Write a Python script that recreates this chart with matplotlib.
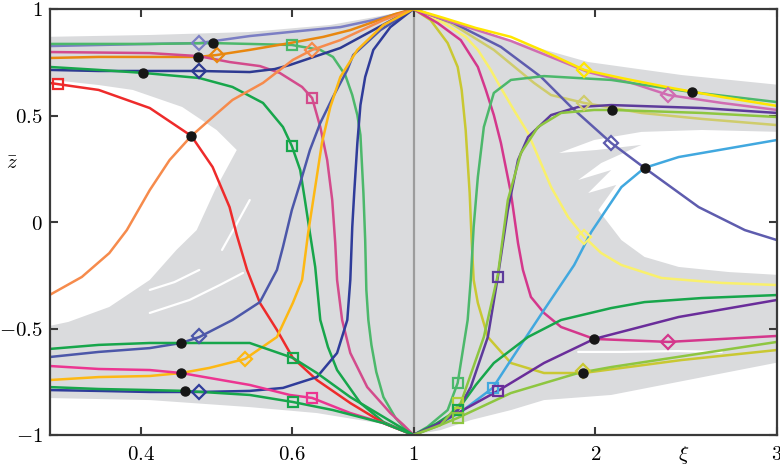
import numpy as np
import matplotlib
matplotlib.use('Agg')
import matplotlib.pyplot as plt
from matplotlib.ticker import FixedLocator, FixedFormatter, NullLocator

plt.rcParams['mathtext.fontset'] = 'cm'
plt.rcParams['font.family'] = 'DejaVu Serif'

# ---------------- data ----------------
xi_ticks = [0.4, 0.6, 1, 2, 3]
xi_tick_labels = ['$0.4$', '$0.6$', '$1$', '$2$', '$3$']
z_ticks = [-1, -0.5, 0, 0.5, 1]
z_tick_labels = ['$-1$', '$-0.5$', '$0$', '$0.5$', '$1$']

# gray envelope of all trajectories
env_up_xi = [0.33, 0.408, 0.526, 0.686, 0.846, 1.0, 1.204, 1.591, 1.961, 2.475, 3.02]
env_up_z = [0.869, 0.878, 0.892, 0.925, 0.967, 1.0, 0.939, 0.840, 0.751, 0.690, 0.643]
env_lo_xi = [0.33, 0.408, 0.526, 0.653, 0.858, 1.0, 1.149, 1.315, 1.536, 1.718, 2.088, 3.02]
env_lo_z = [-0.826, -0.836, -0.869, -0.897, -0.948, -1.0, -0.977, -0.930, -0.883, -0.836, -0.812, -0.657]

# white gaps inside the envelope
gapL_xi = [0.33, 0.366, 0.393, 0.440, 0.480, 0.507, 0.478, 0.456, 0.434, 0.408, 0.374, 0.345, 0.33]
gapL_z = [0.671, 0.643, 0.620, 0.540, 0.432, 0.338, 0.150, -0.038, -0.131, -0.272, -0.399, -0.469, -0.493]
gapR_xi = [3.02, 2.586, 2.254, 1.994, 1.801, 2.006, 2.254, 2.033, 1.906, 2.088, 1.961, 2.116, 2.017,
           2.144, 2.271, 2.459, 2.735, 3.02]
gapR_z = [0.423, 0.432, 0.423, 0.385, 0.324, 0.338, 0.362, 0.277, 0.197, 0.244, 0.136, 0.174, 0.056,
          -0.085, -0.164, -0.211, -0.235, -0.249]
wl1_xi = [0.408, 0.448, 0.484, 0.516]
wl1_z = [-0.427, -0.366, -0.296, -0.239]
wl2_xi = [0.408, 0.432, 0.459]
wl2_z = [-0.319, -0.282, -0.225]
wl3_xi = [0.487, 0.506, 0.526]
wl3_z = [-0.131, -0.014, 0.103]
wr1_xi = [1.906, 2.144, 2.459, 2.696]
wr1_z = [-0.610, -0.610, -0.606, -0.610]

# ---- trajectories, xi < 1 ----
lav_xi = [0.333, 0.366, 0.408, 0.459, 0.526, 0.595, 0.713, 0.819, 0.933, 1.0]
lav_z = [0.826, 0.831, 0.836, 0.840, 0.873, 0.892, 0.915, 0.948, 0.981, 1.0]
mgrnL_xi = [0.333, 0.408, 0.475, 0.526, 0.599, 0.661, 0.693, 0.727, 0.748, 0.764, 0.774, 0.784, 0.790,
            0.794, 0.801, 0.812, 0.830, 0.858, 0.910, 0.958, 1.0]
mgrnL_z = [0.836, 0.836, 0.840, 0.836, 0.831, 0.808, 0.775, 0.690, 0.596, 0.502, 0.408, 0.136, -0.085,
           -0.319, -0.460, -0.577, -0.704, -0.822, -0.920, -0.972, -1.0]
dorg_xi = [0.333, 0.366, 0.408, 0.458, 0.480, 0.526, 0.595, 0.668, 0.742, 0.819, 0.910, 1.0]
dorg_z = [0.770, 0.775, 0.775, 0.775, 0.784, 0.808, 0.840, 0.869, 0.901, 0.939, 0.977, 1.0]
pnk_xi = [0.333, 0.408, 0.458, 0.497, 0.542, 0.576, 0.620, 0.642, 0.661, 0.678, 0.691, 0.699, 0.704,
          0.718, 0.742, 0.797, 0.887, 0.948, 1.0]
pnk_z = [0.798, 0.793, 0.779, 0.751, 0.732, 0.700, 0.634, 0.582, 0.446, 0.291, 0.103, -0.099, -0.272,
         -0.460, -0.615, -0.775, -0.897, -0.953, -1.0]
dblue_xi = [0.333, 0.366, 0.408, 0.459, 0.526, 0.567, 0.595, 0.713, 0.819, 0.919, 1.0]
dblue_z = [0.714, 0.709, 0.709, 0.709, 0.704, 0.718, 0.737, 0.817, 0.901, 0.962, 1.0]
sgrn1_xi = [0.333, 0.366, 0.402, 0.459, 0.501, 0.547, 0.582, 0.599, 0.616, 0.626, 0.637, 0.649, 0.661,
            0.680, 0.704, 0.774, 0.858, 1.0]
sgrn1_z = [0.728, 0.714, 0.700, 0.676, 0.634, 0.559, 0.446, 0.357, 0.244, 0.103, -0.052, -0.211, -0.460,
           -0.587, -0.695, -0.850, -0.939, -1.0]
lorg_xi = [0.333, 0.354, 0.374, 0.388, 0.408, 0.427, 0.450, 0.478, 0.501, 0.547, 0.601, 0.642, 0.713,
           0.858, 1.0]
lorg_z = [-0.343, -0.258, -0.146, -0.038, 0.150, 0.291, 0.404, 0.502, 0.573, 0.653, 0.761, 0.808, 0.854,
          0.948, 1.0]
red_xi = [0.333, 0.366, 0.408, 0.450, 0.475, 0.497, 0.507, 0.522, 0.542, 0.571, 0.601, 0.653, 0.742,
          0.858, 1.0]
red_z = [0.653, 0.620, 0.535, 0.404, 0.258, 0.070, -0.061, -0.225, -0.380, -0.507, -0.638, -0.742,
         -0.850, -0.944, -1.0]
blue2_xi = [0.333, 0.366, 0.408, 0.439, 0.459, 0.501, 0.542, 0.571, 0.582, 0.599, 0.616, 0.637, 0.661,
            0.693, 0.733, 0.751, 0.846, 1.0]
blue2_z = [-0.634, -0.610, -0.592, -0.568, -0.540, -0.460, -0.376, -0.225, -0.117, 0.056, 0.183, 0.338,
           0.465, 0.587, 0.714, 0.784, 0.901, 1.0]
blue3_xi = [0.333, 0.366, 0.408, 0.459, 0.526, 0.582, 0.653, 0.704, 0.733, 0.742, 0.748, 0.754, 0.764,
            0.774, 0.790, 0.819, 0.887, 1.0]
blue3_z = [-0.789, -0.793, -0.798, -0.798, -0.793, -0.779, -0.728, -0.615, -0.460, -0.272, -0.023, 0.136,
           0.371, 0.549, 0.681, 0.808, 0.915, 1.0]
gold_xi = [0.333, 0.366, 0.408, 0.439, 0.471, 0.519, 0.571, 0.601, 0.620, 0.633, 0.649, 0.665, 0.686,
           0.713, 0.764, 0.858, 1.0]
gold_z = [-0.742, -0.728, -0.723, -0.709, -0.685, -0.643, -0.540, -0.380, -0.272, -0.052, 0.164, 0.371,
          0.540, 0.681, 0.808, 0.925, 1.0]
hpink_xi = [0.333, 0.366, 0.408, 0.439, 0.526, 0.595, 0.642, 0.742, 0.858, 1.0]
hpink_z = [-0.676, -0.690, -0.695, -0.709, -0.765, -0.812, -0.826, -0.897, -0.944, -1.0]
sgrn2_xi = [0.333, 0.366, 0.408, 0.439, 0.526, 0.601, 0.653, 0.742, 0.858, 1.0]
sgrn2_z = [-0.596, -0.577, -0.568, -0.568, -0.568, -0.638, -0.709, -0.822, -0.915, -1.0]
sgrn3_xi = [0.333, 0.366, 0.408, 0.443, 0.526, 0.601, 0.693, 0.858, 1.0]
sgrn3_z = [-0.775, -0.784, -0.789, -0.793, -0.812, -0.845, -0.883, -0.944, -1.0]

# ---- trajectories, xi > 1 ----
yel_xi = [1.0, 1.166, 1.343, 1.536, 1.702, 1.939, 2.144, 2.420, 2.696, 3.0]
yel_z = [1.0, 0.958, 0.911, 0.869, 0.808, 0.714, 0.676, 0.629, 0.587, 0.545]
orch_xi = [1.0, 1.177, 1.536, 1.702, 1.961, 2.199, 2.403, 2.696, 3.0]
orch_z = [1.0, 0.948, 0.850, 0.793, 0.704, 0.653, 0.596, 0.559, 0.526]
mgrnR_xi = [1.0, 1.077, 1.188, 1.243, 1.298, 1.315, 1.331, 1.354, 1.387, 1.442, 1.536, 1.718, 2.088,
            2.530, 3.0]
mgrnR_z = [-1.0, -0.962, -0.883, -0.756, -0.460, -0.272, -0.023, 0.211, 0.446, 0.606, 0.667, 0.685,
           0.667, 0.610, 0.563]
khaki_xi = [1.0, 1.204, 1.442, 1.663, 1.757, 1.939, 2.254, 2.586, 3.0]
khaki_z = [1.0, 0.934, 0.808, 0.653, 0.596, 0.559, 0.512, 0.484, 0.455]
slate_xi = [1.0, 1.221, 1.481, 1.702, 1.867, 2.088, 2.271, 2.569, 2.823, 3.0]
slate_z = [1.0, 0.934, 0.822, 0.681, 0.540, 0.371, 0.254, 0.070, -0.038, -0.085]
lyel_xi = [1.0, 1.166, 1.287, 1.354, 1.425, 1.481, 1.552, 1.630, 1.757, 1.851, 1.939, 2.033, 2.144,
           2.365, 2.696, 3.0]
lyel_z = [1.0, 0.934, 0.869, 0.808, 0.714, 0.629, 0.526, 0.418, 0.164, 0.023, -0.070, -0.146, -0.202,
          -0.263, -0.286, -0.296]
mag_xi = [1.0, 1.133, 1.260, 1.354, 1.398, 1.442, 1.481, 1.536, 1.575, 1.602, 1.646, 1.718, 1.812,
          1.994, 2.403, 3.0]
mag_z = [1.0, 0.934, 0.854, 0.728, 0.620, 0.502, 0.371, 0.136, -0.099, -0.225, -0.352, -0.427, -0.493,
         -0.549, -0.563, -0.535]
olive_xi = [1.0, 1.094, 1.188, 1.243, 1.265, 1.287, 1.309, 1.320, 1.331, 1.354, 1.409, 1.536, 1.718,
            1.934, 2.475, 3.0]
olive_z = [1.0, 0.948, 0.840, 0.728, 0.620, 0.432, 0.136, -0.085, -0.272, -0.380, -0.540, -0.662,
           -0.709, -0.709, -0.648, -0.601]
lblue_xi = [1.0, 1.149, 1.260, 1.436, 1.536, 1.718, 1.884, 1.978, 2.144, 2.271, 2.459, 3.0]
lblue_z = [-1.0, -0.944, -0.892, -0.779, -0.648, -0.413, -0.202, -0.047, 0.164, 0.254, 0.305, 0.385]
sgrnR_xi = [1.0, 1.122, 1.243, 1.343, 1.442, 1.630, 1.812, 2.088, 2.271, 2.586, 3.0]
sgrnR_z = [-1.0, -0.948, -0.883, -0.765, -0.662, -0.540, -0.460, -0.404, -0.376, -0.357, -0.343]
purp_xi = [1.0, 1.122, 1.243, 1.464, 1.718, 1.994, 2.459, 3.0]
purp_z = [-1.0, -0.953, -0.897, -0.793, -0.662, -0.549, -0.446, -0.366]
lime_xi = [1.0, 1.122, 1.243, 1.536, 1.906, 2.088, 3.0]
lime_z = [-1.0, -0.962, -0.920, -0.803, -0.709, -0.681, -0.563]
dpurp_xi = [1.0, 1.149, 1.243, 1.315, 1.409, 1.464, 1.519, 1.575, 1.630, 1.757, 1.906, 2.088, 2.586, 3.0]
dpurp_z = [-1.0, -0.948, -0.883, -0.775, -0.540, -0.258, 0.056, 0.291, 0.399, 0.502, 0.540, 0.549,
           0.535, 0.512]
lime2_xi = [1.0, 1.149, 1.221, 1.260, 1.387, 1.464, 1.519, 1.591, 1.685, 1.812, 1.994, 2.094, 2.586, 3.0]
lime2_z = [-1.0, -0.953, -0.883, -0.850, -0.540, -0.249, 0.103, 0.324, 0.446, 0.512, 0.526, 0.526,
           0.512, 0.493]

# ---- markers ----
dot_xi = [0.475, 0.458, 0.402, 0.450, 0.439, 0.439, 0.443, 2.530, 2.094, 2.271, 1.994, 1.934]
dot_z = [0.840, 0.775, 0.700, 0.404, -0.568, -0.709, -0.793, 0.610, 0.526, 0.254, -0.549, -0.709]
dia_xi = [0.459, 0.480, 0.459, 0.642, 0.459, 0.519, 0.459, 1.939, 1.939, 2.403, 2.088, 1.939, 2.403, 1.934]
dia_z = [0.840, 0.784, 0.709, 0.808, -0.535, -0.643, -0.798, 0.714, 0.559, 0.596, 0.371, -0.070, -0.563, -0.700]
dia_col = ['#7b7ec4', '#e8870f', '#2d3a92', '#f68b4c', '#4c57a9', '#fdb813', '#2f3c9a',
           '#ffe600', '#cfcc6c', '#d06cb2', '#5e5cae', '#f9f06c', '#d4378c', '#c9c832']
sq_xi = [0.338, 0.599, 0.642, 0.599, 0.601, 0.601, 0.642, 1.464, 1.436, 1.464, 1.243, 1.243, 1.243, 1.243]
sq_z = [0.648, 0.831, 0.582, 0.357, -0.638, -0.845, -0.826, -0.258, -0.779, -0.793, -0.756, -0.850,
        -0.883, -0.920]
sq_col = ['#ee2b2b', '#4cb86b', '#d34b8c', '#17a64b', '#17a64b', '#17a64b', '#ec3591', '#5d3b9b',
          '#41a8df', '#6a2d9a', '#4cb86b', '#b3d13a', '#17a64b', '#8ec640']

curves = [
    (lav_xi, lav_z, '#7b7ec4'), (mgrnL_xi, mgrnL_z, '#4cb86b'), (dorg_xi, dorg_z, '#e8870f'),
    (pnk_xi, pnk_z, '#d34b8c'), (dblue_xi, dblue_z, '#2d3a92'), (sgrn1_xi, sgrn1_z, '#17a64b'),
    (lorg_xi, lorg_z, '#f68b4c'), (red_xi, red_z, '#ee2b2b'), (blue2_xi, blue2_z, '#4c57a9'),
    (blue3_xi, blue3_z, '#2f3c9a'), (gold_xi, gold_z, '#fdb813'), (hpink_xi, hpink_z, '#ec3591'),
    (sgrn2_xi, sgrn2_z, '#17a64b'), (sgrn3_xi, sgrn3_z, '#17a64b'),
    (khaki_xi, khaki_z, '#cfcc6c'), (lyel_xi, lyel_z, '#f9f06c'), (olive_xi, olive_z, '#c9c832'),
    (mag_xi, mag_z, '#d4378c'), (slate_xi, slate_z, '#5e5cae'), (orch_xi, orch_z, '#d06cb2'),
    (mgrnR_xi, mgrnR_z, '#4cb86b'), (yel_xi, yel_z, '#ffe600'),
    (lblue_xi, lblue_z, '#41a8df'), (sgrnR_xi, sgrnR_z, '#17a64b'), (purp_xi, purp_z, '#6a2d9a'),
    (lime_xi, lime_z, '#8ec640'), (dpurp_xi, dpurp_z, '#5d3b9b'), (lime2_xi, lime2_z, '#8ec640'),
]


# ---------------- scale: 1-1/xi for xi<1, xi-1 for xi>1 ----------------
def fwd(x):
    x = np.asarray(x, dtype=float)
    xs = np.maximum(x, 1e-6)
    return np.where(xs >= 1, xs - 1.0, 1.0 - 1.0 / xs)


def inv(u):
    u = np.asarray(u, dtype=float)
    return np.where(u >= 0, u + 1.0, 1.0 / (1.0 - np.minimum(u, 0)))


fig = plt.figure(figsize=(7.8, 4.67), dpi=100)
ax = fig.add_axes([50 / 780, 1 - 435 / 467, 727 / 780, 426 / 467])
ax.set_xscale('function', functions=(fwd, inv))
ax.set_xlim(1 / 3, 3)
ax.set_ylim(-1, 1)

gray = '#dadbdd'
ax.fill(env_up_xi + env_lo_xi[::-1], env_up_z + env_lo_z[::-1], color=gray, lw=0, zorder=0)
ax.fill(gapL_xi, gapL_z, color='white', lw=0, zorder=0.5)
ax.fill(gapR_xi, gapR_z, color='white', lw=0, zorder=0.5)
for wx, wz in [(wl1_xi, wl1_z), (wl2_xi, wl2_z), (wl3_xi, wl3_z), (wr1_xi, wr1_z)]:
    ax.plot(wx, wz, color='white', lw=1.6, solid_capstyle='round', zorder=0.6)

ax.axvline(1.0, color='#9c9c9c', lw=1.6, zorder=1)

for cx, cz, col in curves:
    ax.plot(cx, cz, color=col, lw=1.8, zorder=2, solid_capstyle='round', solid_joinstyle='round')

for x, z, c in zip(dia_xi, dia_z, dia_col):
    ax.plot([x], [z], marker='D', ms=7, mfc='none', mec=c, mew=1.6, zorder=3, ls='none')
for x, z, c in zip(sq_xi, sq_z, sq_col):
    ax.plot([x], [z], marker='s', ms=7, mfc='none', mec=c, mew=1.6, zorder=3, ls='none')
ax.plot(dot_xi, dot_z, 'o', color='#161616', ms=6.5, zorder=4)

ax.xaxis.set_major_locator(FixedLocator(xi_ticks))
ax.xaxis.set_major_formatter(FixedFormatter(xi_tick_labels))
ax.xaxis.set_minor_locator(NullLocator())
ax.yaxis.set_major_locator(FixedLocator(z_ticks))
ax.yaxis.set_major_formatter(FixedFormatter(z_tick_labels))
ax.tick_params(direction='in', length=6, width=1.5, color='#3a3a3a', top=True, right=True,
               labelsize=15, pad=5)
ax.tick_params(axis='x', pad=7)
for s in ax.spines.values():
    s.set_color('#3a3a3a')
    s.set_linewidth(1.6)
    s.set_zorder(5)

ax.text(0.871, -0.022, r'$\xi$', transform=ax.transAxes, ha='center', va='top', fontsize=15)
ax.text(-0.052, 0.638, r'$\bar{z}$', transform=ax.transAxes, ha='center', va='center', fontsize=15)

fig.savefig('out.png', dpi=100)
